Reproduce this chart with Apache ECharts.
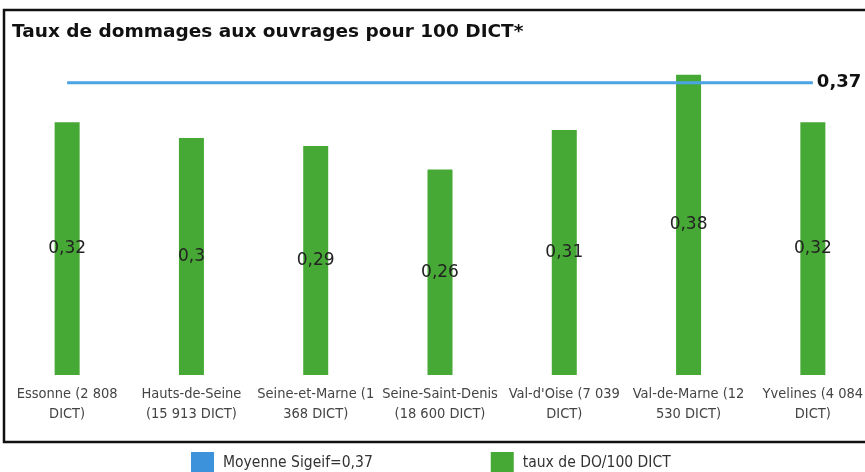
<!DOCTYPE html>
<html>
<head>
<meta charset="utf-8">
<script src="https://cdn.jsdelivr.net/npm/echarts@6/dist/echarts.min.js"></script>
<style>
  html, body { margin: 0; padding: 0; background: #fff; overflow: hidden; }
  #chart { width: 885px; height: 472px; }
</style>
</head>
<body>
<div id="chart"></div>
<script>
var categories = [
  'Essonne (2 808\nDICT)',
  'Hauts-de-Seine\n(15 913 DICT)',
  'Seine-et-Marne (1\n368 DICT)',
  'Seine-Saint-Denis\n(18 600 DICT)',
  "Val-d'Oise (7 039\nDICT)",
  'Val-de-Marne (12\n530 DICT)',
  'Yvelines (4 084\nDICT)'
];
var tauxDO = [0.32, 0.30, 0.29, 0.26, 0.31, 0.38, 0.32];
var moyenne = [0.37, 0.37, 0.37, 0.37, 0.37, 0.37, 0.37];

var narrow = '"Liberation Sans Narrow", "DejaVu Sans Condensed", "Open Sans", sans-serif';

function virgule(v) {
  return String(v).replace('.', ',');
}

var myChart = echarts.init(document.getElementById('chart'));
var option = {
  animation: false,
  title: {
    text: 'Taux de dommages aux ouvrages pour 100 DICT*',
    left: 7,
    top: 18,
    textStyle: { fontFamily: '"DejaVu Sans", sans-serif', fontSize: 18.5, fontWeight: 'bold', color: '#111' }
  },
  graphic: [{
    type: 'rect',
    shape: { x: 4, y: 10, width: 900, height: 432 },
    style: { fill: 'none', stroke: '#111', lineWidth: 2.5 },
    silent: true
  }],
  legend: {
    left: 186,
    top: 447,
    itemWidth: 23,
    itemHeight: 22,
    itemGap: 118,
    textStyle: { fontFamily: narrow, fontSize: 15.5, color: '#333', padding: [0, 0, 0, 4] },
    data: [
      { name: 'Moyenne Sigeif=0,37', icon: 'rect', itemStyle: { color: '#3d92dc' } },
      { name: 'taux de DO/100 DICT', icon: 'rect', itemStyle: { color: '#47a935' } }
    ]
  },
  grid: { left: 5, width: 870, top: 59, height: 316, containLabel: false },
  xAxis: {
    type: 'category',
    data: categories,
    axisLine: { show: false },
    axisTick: { show: false },
    axisLabel: {
      interval: 0,
      margin: 9,
      fontFamily: narrow,
      fontSize: 14.5,
      lineHeight: 20,
      color: '#444'
    }
  },
  yAxis: {
    type: 'value',
    min: 0,
    max: 0.4,
    show: false
  },
  series: [
    {
      name: 'taux de DO/100 DICT',
      type: 'bar',
      barWidth: 25,
      data: tauxDO,
      itemStyle: { color: '#47a935' },
      label: {
        show: true,
        position: 'inside',
        fontFamily: '"DejaVu Sans", sans-serif',
        fontSize: 17,
        color: '#222',
        formatter: function (p) { return virgule(p.value); }
      }
    },
    {
      name: 'Moyenne Sigeif=0,37',
      type: 'line',
      data: moyenne,
      symbol: 'none',
      z: 3,
      lineStyle: { color: '#4aa3e3', width: 3 },
      endLabel: {
        show: true,
        distance: 4,
        fontFamily: '"DejaVu Sans", sans-serif',
        fontSize: 18,
        fontWeight: 'bold',
        color: '#111',
        formatter: function (p) { return virgule(p.value); }
      }
    }
  ]
};
myChart.setOption(option, true);
window.addEventListener('resize', function () {
  myChart.resize();
});
</script>
</body>
</html>
